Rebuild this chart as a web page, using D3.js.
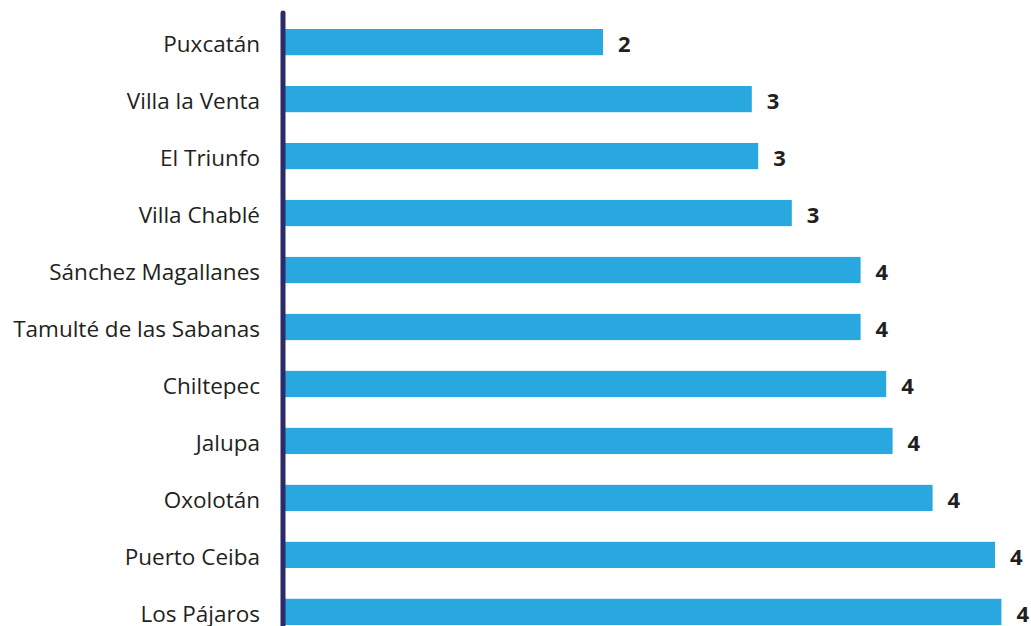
<!DOCTYPE html>
<html>
<head>
<meta charset="utf-8">
<script src="https://cdn.jsdelivr.net/npm/d3@7"></script>
<style>
    html, body { margin: 0; padding: 0; background: #fff; }
    svg { display: block; }
</style>
</head>
<body>
<div id="chart"></div>
<script>
// categories top to bottom, labels as printed
const places = [`Puxcatán`, `Villa la Venta`, `El Triunfo`, `Villa Chablé`, `Sánchez Magallanes`,
    `Tamulté de las Sabanas`, `Chiltepec`, `Jalupa`, `Oxolotán`, `Puerto Ceiba`, `Los Pájaros`]
const values = [2.0, 2.93, 2.97, 3.18, 3.61, 3.61, 3.77, 3.81, 4.06, 4.45, 4.49]
const valueLabels = [`2`, `3`, `3`, `3`, `4`, `4`, `4`, `4`, `4`, `4`, `4`]

const width = 1031,
    height = 626,
    axisX = 283

const svg = d3.select(`#chart`).append(`svg`)
    .attr(`width`, width)
    .attr(`height`, height)
    .attr(`viewBox`, `0 0 ${width} ${height}`)

const x = d3.scaleLinear().domain([0, 5]).range([axisX, axisX + 800])
const y = d3.scaleBand().domain(places).range([29, 625]).paddingInner(0.54).paddingOuter(0)

const rows = svg.append(`g`).selectAll(`g`).data(places).join(`g`)

rows.append(`rect`)
    .attr(`x`, x(0))
    .attr(`y`, d => y(d))
    .attr(`width`, (d, i) => x(values[i]) - x(0))
    .attr(`height`, y.bandwidth())
    .attr(`fill`, `#29a8e0`)

rows.append(`text`)
    .attr(`x`, (d, i) => x(values[i]) + 15)
    .attr(`y`, d => y(d) + y.bandwidth() / 2)
    .attr(`dy`, `0.45em`)
    .attr(`font-family`, `"Open Sans", sans-serif`)
    .attr(`font-weight`, 700)
    .attr(`font-size`, 22)
    .attr(`fill`, `#231f20`)
    .text((d, i) => valueLabels[i])

// category axis, drawn by d3 and restyled
const yAxis = svg.append(`g`)
    .attr(`transform`, `translate(${axisX},0)`)
    .call(d3.axisLeft(y).tickSize(0).tickPadding(23))

yAxis.select(`.domain`).remove()
yAxis.selectAll(`text`)
    .attr(`font-family`, `"Open Sans", sans-serif`)
    .attr(`font-size`, 22.5)
    .attr(`dy`, `0.45em`)
    .attr(`fill`, `#231f20`)

svg.append(`line`)
    .attr(`x1`, axisX).attr(`x2`, axisX)
    .attr(`y1`, 13).attr(`y2`, height + 5)
    .attr(`stroke`, `#2b2a6b`)
    .attr(`stroke-width`, 5)
    .attr(`stroke-linecap`, `round`)
</script>
</body>
</html>
